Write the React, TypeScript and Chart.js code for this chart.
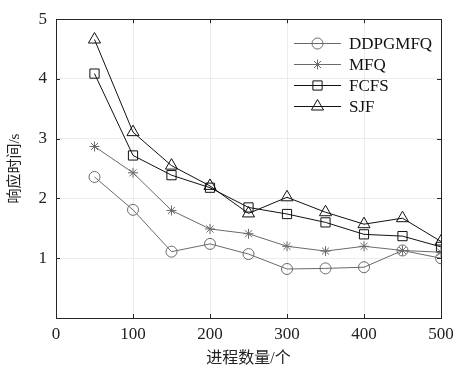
import React, { useEffect, useRef } from 'react';
import { Chart, registerables } from 'chart.js';
import { drawPoint } from 'chart.js/helpers';

Chart.register(...registerables);

const processCounts = [50, 100, 150, 200, 250, 300, 350, 400, 450, 500];
const ddpgmfq = [2.36, 1.81, 1.11, 1.24, 1.07, 0.82, 0.83, 0.85, 1.13, 1.0];
const mfq = [2.87, 2.43, 1.8, 1.49, 1.41, 1.2, 1.12, 1.2, 1.13, 1.1];
const fcfs = [4.09, 2.72, 2.39, 2.18, 1.85, 1.74, 1.6, 1.4, 1.37, 1.19];
const sjf = [4.66, 3.11, 2.55, 2.21, 1.75, 2.02, 1.77, 1.57, 1.67, 1.28];
const seriesNames = ['DDPGMFQ', 'MFQ', 'FCFS', 'SJF'];
const xTickValues = [0, 100, 200, 300, 400, 500];
const yTickValues = [1, 2, 3, 4, 5];
const xTitle = '进程数量/个';
const yTitle = '响应时间/s';

const GRAY = '#6a6a6a';
const BLACK = '#111111';
const FONT = "'Liberation Serif', 'Noto Sans CJK SC', serif";

const frameAndLegend = {
  id: 'frameAndLegend',
  afterDraw(chart: any) {
    const { ctx, chartArea } = chart;
    const { left, right, top, bottom } = chartArea;
    const xs = chart.scales.x;
    const ys = chart.scales.y;
    ctx.save();
    ctx.strokeStyle = '#262626';
    ctx.lineWidth = 1;
    ctx.strokeRect(Math.round(left) + 0.5, Math.round(top) + 0.5, Math.round(right - left), Math.round(bottom - top));
    const tl = 4;
    ctx.beginPath();
    xTickValues.forEach((v) => {
      const px = Math.round(xs.getPixelForValue(v)) + 0.5;
      ctx.moveTo(px, bottom);
      ctx.lineTo(px, bottom - tl);
      ctx.moveTo(px, top);
      ctx.lineTo(px, top + tl);
    });
    [0, ...yTickValues].forEach((v) => {
      const py = Math.round(ys.getPixelForValue(v)) + 0.5;
      ctx.moveTo(left, py);
      ctx.lineTo(left + tl, py);
      ctx.moveTo(right, py);
      ctx.lineTo(right - tl, py);
    });
    ctx.stroke();

    // legend
    const lx0 = right - 147;
    const lx1 = right - 100;
    const tx = right - 92;
    chart.data.datasets.forEach((ds: any, i: number) => {
      const y = Math.round(top + 23.5 + i * 21.2) + 0.5;
      ctx.strokeStyle = ds.borderColor;
      ctx.lineWidth = 1;
      ctx.beginPath();
      ctx.moveTo(lx0, y);
      ctx.lineTo(lx1, y);
      ctx.stroke();
      ctx.fillStyle = 'rgba(0,0,0,0)';
      ctx.strokeStyle = ds.pointBorderColor;
      drawPoint(ctx, { pointStyle: ds.pointStyle, radius: ds.pointRadius, borderWidth: 1, rotation: 0 }, (lx0 + lx1) / 2, y);
      ctx.fillStyle = '#111';
      ctx.font = `17px ${FONT}`;
      ctx.textBaseline = 'middle';
      ctx.textAlign = 'left';
      ctx.fillText(ds.label, tx, y + 1);
    });
    ctx.restore();
  },
};

export default function App() {
  const ref = useRef<HTMLCanvasElement>(null);
  useEffect(() => {
    if (!ref.current) return;
    const mk = (vals: number[]) => processCounts.map((x, i) => ({ x, y: vals[i] }));
    const styles = [
      { color: GRAY, ps: 'circle', r: 5.5 },
      { color: GRAY, ps: 'star', r: 5 },
      { color: BLACK, ps: 'rect', r: 6.5 },
      { color: BLACK, ps: 'triangle', r: 7 },
    ];
    const all = [ddpgmfq, mfq, fcfs, sjf];
    const chart = new Chart(ref.current, {
      type: 'line',
      data: {
        datasets: all.map((vals, i) => ({
          label: seriesNames[i],
          data: mk(vals),
          borderColor: styles[i].color,
          borderWidth: 1,
          pointStyle: styles[i].ps as any,
          pointRadius: styles[i].r,
          pointBorderColor: styles[i].color,
          pointBackgroundColor: 'rgba(0,0,0,0)',
          pointBorderWidth: 1,
          tension: 0,
        })),
      },
      options: {
        animation: false,
        responsive: false,
        devicePixelRatio: 1,
        layout: { padding: { top: 12, right: 19, left: 0, bottom: 0 } },
        plugins: { legend: { display: false }, tooltip: { enabled: false } },
        scales: {
          x: {
            type: 'linear',
            min: 0,
            max: 500,
            afterBuildTicks: (s: any) => {
              s.ticks = xTickValues.map((v) => ({ value: v }));
            },
            afterFit: (s: any) => {
              s.height = 61;
            },
            ticks: { font: { family: FONT, size: 17 }, color: '#222', padding: 6, maxRotation: 0 },
            grid: { color: '#ececec', drawTicks: false },
            border: { display: false },
            title: {
              display: true,
              text: xTitle,
              font: { family: FONT, size: 16 },
              color: '#222',
              padding: { top: 11, bottom: 11 },
            },
          },
          y: {
            type: 'linear',
            min: 0,
            max: 5,
            afterBuildTicks: (s: any) => {
              s.ticks = [0, ...yTickValues].map((v) => ({ value: v }));
            },
            afterFit: (s: any) => {
              s.width = 56;
            },
            ticks: {
              font: { family: FONT, size: 17 },
              color: '#222',
              padding: 9,
              callback: (v: any) => (v === 0 ? '' : String(v)),
            },
            grid: { color: '#ececec', drawTicks: false },
            border: { display: false },
            title: {
              display: true,
              text: yTitle,
              font: { family: FONT, size: 15 },
              color: '#222',
              padding: { top: 6, bottom: 6 },
            },
          },
        },
      },
      plugins: [frameAndLegend],
    });
    return () => chart.destroy();
  }, []);
  return (
    <div style={{ position: 'absolute', left: 0, top: 0, width: 460, height: 379, background: '#fff' }}>
      <canvas ref={ref} width={460} height={379} style={{ width: 460, height: 379 }} />
    </div>
  );
}
